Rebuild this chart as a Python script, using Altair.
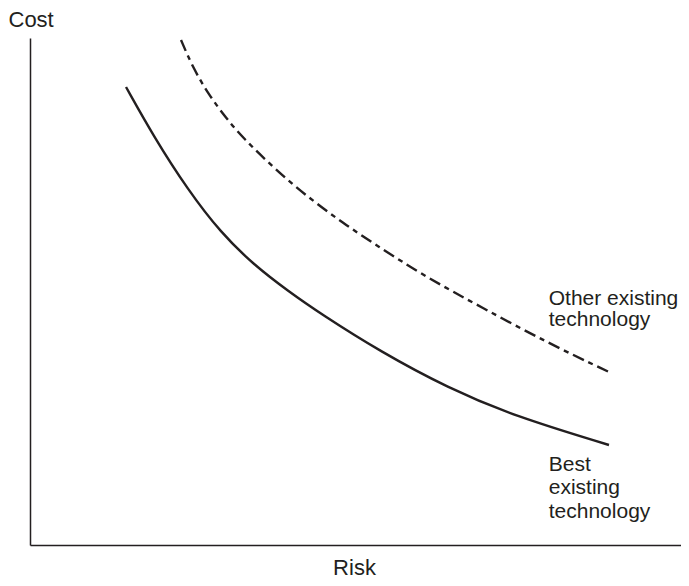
import altair as alt
import pandas as pd

# Best existing technology (solid curve)
best_risk = [14.55, 18.79, 23.94, 28.94, 33.94, 39.09, 44.09, 53.18, 63.33, 73.33, 87.73]
best_cost = [90.34, 80.47, 70.02, 61.54, 55.23, 50.10, 45.56, 38.07, 30.97, 25.44, 19.72]

# Other existing technology (dash-dot curve)
other_risk = [22.88, 24.70, 27.12, 29.70, 32.27, 37.27, 42.27, 47.42, 52.42, 60.00, 68.33, 78.48, 87.73]
other_cost = [99.61, 94.08, 88.76, 84.22, 80.28, 73.96, 68.44, 63.51, 59.17, 52.86, 46.94, 39.84, 34.12]

label_text = ["Other existing\ntechnology", "Best\nexisting\ntechnology"]
label_risk = [78.6, 78.6]
label_cost = [47.3, 14.6]
label_lh = [21, 23.5]

FONT = "Liberation Sans"
INK = "#231f20"

best_df = pd.DataFrame({"risk": best_risk, "cost": best_cost})
other_df = pd.DataFrame({"risk": other_risk, "cost": other_cost})

xs = alt.Scale(domain=[0, 98.64], nice=False, zero=False)
ys = alt.Scale(domain=[0, 100], nice=False, zero=False)

x_axis = alt.Axis(
    ticks=False, labels=False, grid=False, domainColor=INK, domainWidth=1.5,
    title="Risk", titleFont=FONT, titleFontSize=22, titleFontWeight="normal",
    titleColor=INK, titleX=324, titleY=29, titleAlign="center",
    titleBaseline="alphabetic",
)
y_axis = alt.Axis(
    ticks=False, labels=False, grid=False, domainColor=INK, domainWidth=1.5,
    title="Cost", titleFont=FONT, titleFontSize=22, titleFontWeight="normal",
    titleColor=INK, titleAngle=0, titleX=-22, titleY=-12, titleAlign="left",
    titleBaseline="alphabetic",
)

best = alt.Chart(best_df).mark_line(
    color=INK, strokeWidth=2.4, interpolate="basis"
).encode(
    x=alt.X("risk:Q", scale=xs, axis=x_axis),
    y=alt.Y("cost:Q", scale=ys, axis=y_axis),
)

other = alt.Chart(other_df).mark_line(
    color=INK, strokeWidth=2.4, interpolate="basis", strokeDash=[12, 5, 5, 5]
).encode(
    x=alt.X("risk:Q", scale=xs),
    y=alt.Y("cost:Q", scale=ys),
)

def label(i):
    df = pd.DataFrame({"risk": [label_risk[i]], "cost": [label_cost[i]], "t": [label_text[i]]})
    return alt.Chart(df).mark_text(
        align="left", baseline="alphabetic", font=FONT, fontSize=21, color=INK,
        lineBreak="\n", lineHeight=label_lh[i]
    ).encode(x=alt.X("risk:Q", scale=xs), y=alt.Y("cost:Q", scale=ys), text="t:N")

chart = alt.layer(best, other, label(0), label(1)).properties(
    width=651, height=507,
    autosize=alt.AutoSizeParams(type="none"),
    padding={"left": 22, "top": 30, "right": 0, "bottom": 33},
).configure(background="white").configure_view(stroke=None)

chart.save("out.html", embed_options={"renderer": "svg", "actions": False})
